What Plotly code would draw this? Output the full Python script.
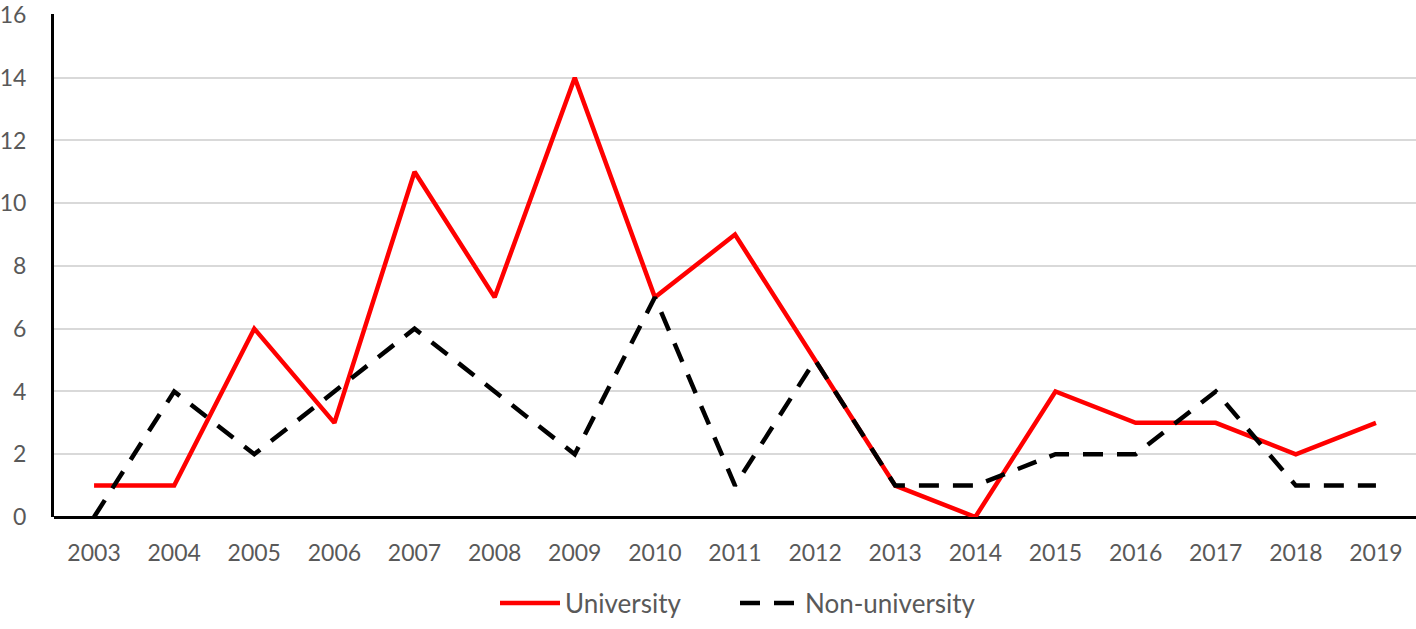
import plotly.graph_objects as go

years = [str(y) for y in range(2003, 2020)]
university = [1, 1, 6, 3, 11, 7, 14, 7, 9, 5, 1, 0, 4, 3, 3, 2, 3]
non_university = [0, 4, 2, 4, 6, 4, 2, 7, 1, 5, 1, 1, 2, 2, 4, 1, 1]
y_ticks = [0, 2, 4, 6, 8, 10, 12, 14, 16]

font_family = "Lato, 'Liberation Sans', sans-serif"
grey = "#595959"

fig = go.Figure()
fig.add_trace(go.Scatter(x=years, y=university, mode="lines", name="University",
                         line=dict(color="#FF0000", width=4.5)))
fig.add_trace(go.Scatter(x=years, y=non_university, mode="lines", name="Non-university",
                         line=dict(color="#000000", width=4.5, dash="20px,14px")))

fig.update_layout(
    width=1416, height=629,
    margin=dict(l=50, r=0, t=10, b=112),
    paper_bgcolor="white", plot_bgcolor="white",
    font=dict(family=font_family, size=23, color=grey),
    showlegend=True,
    legend=dict(orientation="h", x=0.5, xanchor="center", y=-0.218, yanchor="bottom",
                font=dict(size=26, color=grey), itemwidth=60, entrywidth=165),
)
fig.update_xaxes(type="category", range=[-0.5, len(years) - 0.5], showgrid=False, showline=False, ticks="",
                 ticklabelstandoff=20, tickfont=dict(size=23, color=grey))
fig.update_yaxes(range=[0, 16.03], tickvals=y_ticks, showgrid=True, gridcolor="#D9D9D9", gridwidth=2,
                 zeroline=True, zerolinecolor="black", zerolinewidth=3,
                 showline=True, linecolor="black", linewidth=3, ticks="",
                 ticklabeloverflow="allow", ticklabelstandoff=20,
                 tickfont=dict(size=23, color=grey))
fig.write_html("out.html", config={"displayModeBar": False},
               post_script="document.body.style.margin='0';")
